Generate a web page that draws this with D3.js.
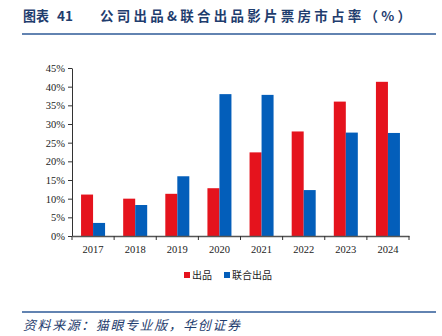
<!DOCTYPE html>
<html><head><meta charset="utf-8">
<script src="https://cdn.jsdelivr.net/npm/d3@7"></script>
<style>body{margin:0;background:#fff;} svg{display:block;}</style>
</head><body>
<svg id="c" width="442" height="336"></svg>
<script>
const categories = ["2017","2018","2019","2020","2021","2022","2023","2024"];
const seriesNames = ["出品","联合出品"];
const produced = [11.1, 10.0, 11.3, 12.8, 22.4, 28.0, 36.0, 41.3];
const coProduced = [3.5, 8.3, 16.0, 38.0, 37.8, 12.3, 27.7, 27.6];
const yTicks = [0,5,10,15,20,25,30,35,40,45];
const colors = ["#E5131D","#035EBA"];

const svg = d3.select("#c");
const m = {l:72, r:409, t:68, b:236};
const x = d3.scaleBand().domain(categories).range([m.l, m.r]).paddingInner(0.43).paddingOuter(0.215);
const xb = d3.scaleBand().domain(seriesNames).range([0, x.bandwidth()]);
const y = d3.scaleLinear().domain([0,45]).range([m.b, m.t]);

// title
const tg = svg.append("g").attr("fill","#1F3D6E").attr("font-family","Noto Sans CJK SC").attr("font-weight","bold").attr("font-size",13.5);
tg.append("text").attr("x",23).attr("y",21).attr("textLength",26).attr("lengthAdjust","spacingAndGlyphs").text("图表");
tg.append("text").attr("x",57).attr("y",21).attr("textLength",16).attr("lengthAdjust","spacingAndGlyphs").text("41");
tg.append("text").attr("x",100).attr("y",21).attr("textLength",311).attr("lengthAdjust","spacing").text("公司出品&联合出品影片票房市占率（%）");
svg.append("line").attr("x1",22).attr("x2",436).attr("y1",34).attr("y2",34).attr("stroke","#2E5A97").attr("stroke-width",1.5);

// bars
const data = categories.map((c,i)=>({c, v:[produced[i], coProduced[i]]}));
const g = svg.append("g");
data.forEach(d=>{
  d.v.forEach((v,j)=>{
    g.append("rect").attr("x", x(d.c)+xb(seriesNames[j])).attr("width", xb.bandwidth())
      .attr("y", y(v)).attr("height", y(0)-y(v)).attr("fill", colors[j]);
  });
});

// y axis
const ya = d3.axisLeft(y).tickValues(yTicks).tickFormat(d=>d+"%").tickSize(4).tickSizeOuter(0);
const yg = svg.append("g").attr("transform",`translate(${m.l},0)`).call(ya);
yg.selectAll("text").attr("font-family","Liberation Serif").attr("font-size",10.5).attr("fill","#222").attr("x",-7);
yg.selectAll("line,path").attr("stroke","#333");

// x axis
const xa = d3.axisBottom(x).tickSize(0).tickSizeOuter(0);
const xg = svg.append("g").attr("transform",`translate(0,${m.b})`).call(xa);
xg.select("path").attr("stroke","#555").attr("stroke-width",1.5);
xg.selectAll("text").attr("font-family","Liberation Serif").attr("font-size",10.5).attr("fill","#222").attr("dy","1.35em");
const bounds = d3.range(categories.length+1).map(i=>m.l + i*(m.r-m.l)/categories.length);
xg.selectAll("line.b").data(bounds).enter().append("line").attr("class","b")
  .attr("x1",d=>d).attr("x2",d=>d).attr("y1",0).attr("y2",4).attr("stroke","#333");

// legend
const lg = svg.append("g").attr("font-family","Noto Sans CJK SC").attr("font-size",10).attr("fill","#222");
const legPos = [184, 224];
seriesNames.forEach((n,j)=>{
  lg.append("rect").attr("x",legPos[j]).attr("y",272).attr("width",6).attr("height",6).attr("fill",colors[j]);
  lg.append("text").attr("x",legPos[j]+8).attr("y",279).text(n);
});

// source
svg.append("line").attr("x1",22).attr("x2",436).attr("y1",312).attr("y2",312).attr("stroke","#2E5A97").attr("stroke-width",1.5);
svg.append("text").attr("x",23).attr("y",330).attr("fill","#1F3D6E").attr("font-family","Noto Sans CJK SC")
  .attr("font-size",13).attr("font-style","italic").attr("textLength",217).attr("lengthAdjust","spacing").text("资料来源：猫眼专业版，华创证券");
</script>
</body></html>
